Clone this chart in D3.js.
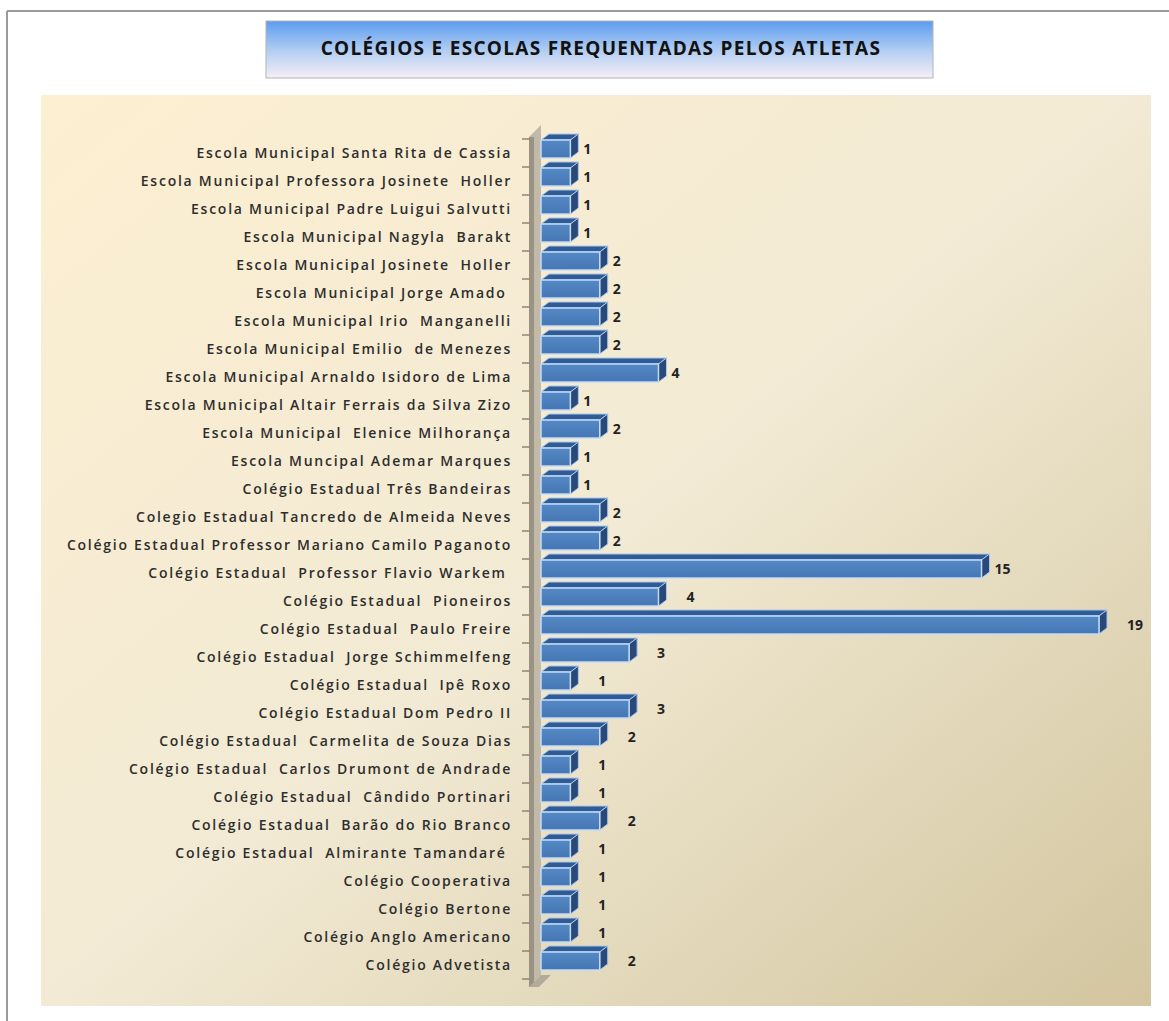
<!DOCTYPE html>
<html>
<head>
<meta charset="utf-8">
<script src="https://cdn.jsdelivr.net/npm/d3@7"></script>
<style>
  body { margin: 0; background: #fff; }
  svg text { white-space: pre; }
</style>
</head>
<body>
<svg id="chart"></svg>
<script>
// top to bottom, as in the source sheet (labels keep their original spacing)
const schools = [
    "Escola Municipal Santa Rita de Cassia",
    "Escola Municipal Professora Josinete  Holler",
    "Escola Municipal Padre Luigui Salvutti",
    "Escola Municipal Nagyla  Barakt",
    "Escola Municipal Josinete  Holler",
    "Escola Municipal Jorge Amado ",
    "Escola Municipal Irio  Manganelli",
    "Escola Municipal Emilio  de Menezes",
    "Escola Municipal Arnaldo Isidoro de Lima",
    "Escola Municipal Altair Ferrais da Silva Zizo",
    "Escola Municipal  Elenice Milhorança",
    "Escola Muncipal Ademar Marques",
    "Colégio Estadual Três Bandeiras",
    "Colegio Estadual Tancredo de Almeida Neves",
    "Colégio Estadual Professor Mariano Camilo Paganoto",
    "Colégio Estadual  Professor Flavio Warkem ",
    "Colégio Estadual  Pioneiros",
    "Colégio Estadual  Paulo Freire",
    "Colégio Estadual  Jorge Schimmelfeng",
    "Colégio Estadual  Ipê Roxo",
    "Colégio Estadual Dom Pedro II",
    "Colégio Estadual  Carmelita de Souza Dias",
    "Colégio Estadual  Carlos Drumont de Andrade",
    "Colégio Estadual  Cândido Portinari",
    "Colégio Estadual  Barão do Rio Branco",
    "Colégio Estadual  Almirante Tamandaré ",
    "Colégio Cooperativa",
    "Colégio Bertone",
    "Colégio Anglo Americano",
    "Colégio Advetista"
]
const athletes = [1, 1, 1, 1, 2, 2, 2, 2, 4, 1, 2, 1, 1, 2, 2, 15, 4, 19, 3, 1, 3, 2, 1, 1, 2, 1, 1, 1, 1, 2]
const title = "COLÉGIOS E ESCOLAS FREQUENTADAS PELOS ATLETAS"

const W = 1169, H = 1021
const plot = {left: 41, top: 95, right: 1151, bottom: 1006}
const depth = {dx: 8, dy: -6}

const svg = d3.select("#chart").attr("width", W).attr("height", H)
const defs = svg.append("defs")

let bg = defs.append("linearGradient").attr("id", "bg").attr("x1", 0).attr("y1", 0).attr("x2", 1).attr("y2", 1)
bg.append("stop").attr("offset", 0).attr("stop-color", "#fdefd1")
bg.append("stop").attr("offset", 0.5).attr("stop-color", "#f2ead4")
bg.append("stop").attr("offset", 1).attr("stop-color", "#d2c59f")

let tg = defs.append("linearGradient").attr("id", "titlebg").attr("x1", 0).attr("y1", 0).attr("x2", 0).attr("y2", 1)
tg.append("stop").attr("offset", 0).attr("stop-color", "#5c9cf0")
tg.append("stop").attr("offset", 0.55).attr("stop-color", "#b7d0f2")
tg.append("stop").attr("offset", 1).attr("stop-color", "#f6eef6")

let fg = defs.append("linearGradient").attr("id", "front").attr("x1", 0).attr("y1", 0).attr("x2", 0).attr("y2", 1)
fg.append("stop").attr("offset", 0).attr("stop-color", "#5489c6")
fg.append("stop").attr("offset", 1).attr("stop-color", "#4676b4")

// page frame
svg.append("line").attr("x1", 7).attr("x2", W).attr("y1", 11).attr("y2", 11).attr("stroke", "#9b9b9b").attr("stroke-width", 2)
svg.append("line").attr("x1", 7).attr("x2", 7).attr("y1", 11).attr("y2", H).attr("stroke", "#9b9b9b").attr("stroke-width", 2)

// title box
svg.append("rect").attr("x", 266).attr("y", 21).attr("width", 667).attr("height", 57)
    .attr("fill", "url(#titlebg)").attr("stroke", "#b4b4b4").attr("stroke-width", 1)
svg.append("text").text(title).attr("x", 601).attr("y", 50).attr("text-anchor", "middle")
    .attr("dominant-baseline", "middle").attr("font-family", "'Open Sans', sans-serif")
    .attr("font-weight", "bold").attr("font-size", 19).attr("letter-spacing", 1.3).attr("fill", "#111")

// plot area
svg.append("rect").attr("x", plot.left).attr("y", plot.top)
    .attr("width", plot.right - plot.left).attr("height", plot.bottom - plot.top).attr("fill", "url(#bg)")

const x = d3.scaleLinear().domain([0, 19]).range([541, 1099])
const y = d3.scaleBand().domain(schools).range([139, 979])
const barH = 18

// 3d wall on the category axis, with a short floor edge at the bottom
let wallTop = y.range()[0] - 2, wallBottom = y.range()[1] + 8
svg.append("polygon")
    .attr("points", `529,${wallTop} 541,${wallTop - 12} 541,${wallBottom - 12} 529,${wallBottom}`)
    .attr("fill", "#c2baa9")
svg.append("rect").attr("x", 529).attr("y", wallTop).attr("width", 5).attr("height", wallBottom - wallTop).attr("fill", "#9a9283")
svg.append("polygon")
    .attr("points", `529,${wallBottom} 541,${wallBottom - 12} 551,${wallBottom - 12} 539,${wallBottom}`)
    .attr("fill", "#b3ab9a")

// boundary ticks
svg.append("g").selectAll("line")
    .data(schools.map(d => y(d)).concat([y.range()[1]]))
    .join("line")
    .attr("x1", 522).attr("x2", 530).attr("y1", d => d).attr("y2", d => d)
    .attr("stroke", "#8c8678").attr("stroke-width", 1.5)

// category labels via axis
let axis = svg.append("g").attr("transform", "translate(512, 1)")
    .call(d3.axisLeft(y).tickSize(0).tickPadding(0))
axis.select(".domain").remove()
axis.selectAll("text")
    .attr("font-family", "'Open Sans', sans-serif").attr("font-size", 14).attr("font-weight", 600)
    .attr("letter-spacing", 1.75).attr("fill", "#2e2e2e")

// bars
let bars = svg.append("g").selectAll("g").data(schools.map((s, i) => ({s, v: athletes[i], i}))).join("g")
const px = d => x(0), pw = d => x(d.v), py = d => y(d.s) + 1

bars.append("polygon")
    .attr("points", d => `${px(d)},${py(d)} ${px(d) + depth.dx},${py(d) + depth.dy} ${pw(d) + depth.dx},${py(d) + depth.dy} ${pw(d)},${py(d)}`)
    .attr("fill", "#2f5c96").attr("stroke", "#a9c6ec").attr("stroke-width", 1)
bars.append("polygon")
    .attr("points", d => `${pw(d)},${py(d)} ${pw(d) + depth.dx},${py(d) + depth.dy} ${pw(d) + depth.dx},${py(d) + barH + depth.dy} ${pw(d)},${py(d) + barH}`)
    .attr("fill", "#28497a").attr("stroke", "#a9c6ec").attr("stroke-width", 1)
bars.append("rect")
    .attr("x", px).attr("y", py).attr("width", d => pw(d) - px(d)).attr("height", barH)
    .attr("fill", "url(#front)").attr("stroke", "#c4dbf6").attr("stroke-width", 1.5)

// value labels (the lower ones sit further out, as in the source)
bars.append("text").text(d => d.v)
    .attr("x", d => pw(d) + depth.dx + (d.i >= 16 ? 20 : 5))
    .attr("y", d => y(d.s) + 11)
    .attr("dominant-baseline", "middle")
    .attr("font-family", "'Open Sans', sans-serif").attr("font-weight", "bold")
    .attr("font-size", 14).attr("fill", "#222")
</script>
</body>
</html>
